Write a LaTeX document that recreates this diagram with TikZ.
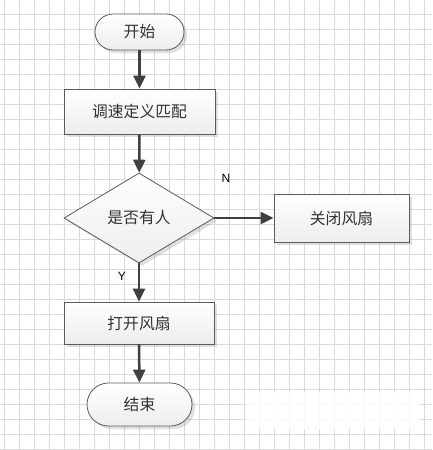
\documentclass[tikz,border=0pt]{standalone}
\usepackage{fontspec}
\setmainfont{Liberation Sans}
\newfontfamily\cjk{Noto Sans CJK SC}
\usetikzlibrary{arrows.meta,shapes.geometric,shadows}
\definecolor{gridgray}{HTML}{DADADA}
\definecolor{edgegray}{HTML}{5C5C5C}
\definecolor{arrowgray}{HTML}{404040}
\definecolor{textgray}{HTML}{333333}
\begin{document}
\begin{tikzpicture}[x=1pt,y=-1pt,
  gridline/.style={gridgray, line width=0.75pt},
  shape base/.style={draw=edgegray, line width=0.8pt, top color=white, bottom color=gray!14,
    drop shadow={shadow xshift=3pt, shadow yshift=-3pt, opacity=0.25},
    inner sep=0pt, text=textgray, font=\cjk\fontsize{15.8}{15.8}\selectfont},
  procbox/.style={shape base, rectangle},
  terminal/.style={shape base, rectangle},
  decision/.style={shape base, diamond, aspect=1.667},
  flow/.style={arrowgray, line width=2.5pt, -{Triangle[width=12pt,length=13pt]}},
  yesno/.style={text=black, font=\fontsize{12}{12}\selectfont}]
 \useasboundingbox (0,0) rectangle (432,450);
 \fill[white] (0,0) rectangle (432,450);
 % Background grid
 \foreach \x in {4,19,...,424} \draw[gridline] (\x,0) -- (\x,450);
 \foreach \y in {14,29,...,449} \draw[gridline] (0,\y) -- (432,\y);
 % Erased patch
 \fill[white, opacity=0.85] (246,392) rectangle (420,430);
 % Define the shapes
 \node[terminal, minimum width=89pt, minimum height=36pt, rounded corners=18pt] (start) at (139.5,32) {开始};
 \node[procbox, minimum width=151pt, minimum height=45pt] (match) at (139.5,111.5) {调速定义匹配};
 \node[decision, minimum width=150pt, minimum height=90pt] (person) at (139,218) {是否有人};
 \node[procbox, minimum width=135pt, minimum height=48pt] (fanoff) at (341.5,218) {关闭风扇};
 \node[procbox, minimum width=150pt, minimum height=42pt] (fanon) at (139,323) {打开风扇};
 \node[terminal, minimum width=105pt, minimum height=43pt, rounded corners=21.5pt] (stop) at (139.5,404.5) {结束};
 % Draw the arrows
 \draw[flow] (start) -- (match);
 \draw[flow] (match) -- (person);
 \draw[flow] (person.east) -- (fanoff);
 \draw[flow] (person.south) -- (fanon);
 \draw[flow] (fanon) -- (stop);
 % Branch labels
 \node[yesno] (no) at (226,178) {N};
 \node[yesno] (yes) at (122,276) {Y};
\end{tikzpicture}
\end{document}
